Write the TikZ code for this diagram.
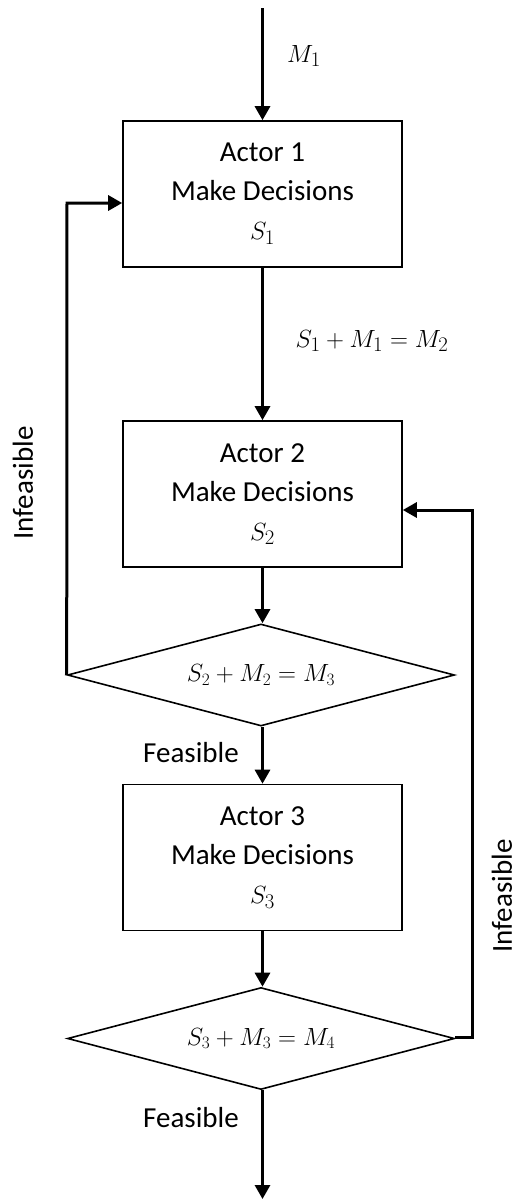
\documentclass[tikz,border=0pt]{standalone}
\usepackage{fontspec}
\setmainfont{Carlito}
\usetikzlibrary{shapes.geometric,arrows.meta,calc}
\newcommand{\boxmath}[1]{{\fontsize{32}{39}\selectfont$#1$}}
\begin{document}
\begin{tikzpicture}[x=1pt,y=-1pt,
  actorbox/.style={draw,line width=1.6pt,minimum width=279pt,minimum height=146pt,inner sep=0pt,align=center,
    font=\fontsize{29}{39}\selectfont},
  decision/.style={draw,diamond,line width=1.6pt,minimum width=387pt,minimum height=102pt,inner sep=0pt,
    aspect=3.8,font=\fontsize{27}{30}\selectfont},
  flow/.style={line width=3pt,-{Triangle[length=14pt,width=15pt]}},
  lbl/.style={font=\fontsize{29}{34}\selectfont,inner sep=0pt},
  mlbl/.style={font=\fontsize{31}{34}\selectfont,inner sep=0pt}]
\useasboundingbox (0,0) rectangle (521,1200);
\node[actorbox] (b1) at (262.5,194) {Actor 1\\Make Decisions\\\boxmath{S_1}};
\node[actorbox] (b2) at (262.5,494) {Actor 2\\Make Decisions\\\boxmath{S_2}};
\node[decision] (d1) at (261,675) {$S_2+M_2=M_3$};
\node[actorbox] (b3) at (262.5,857.5) {Actor 3\\Make Decisions\\\boxmath{S_3}};
\node[decision] (d2) at (261,1038.5) {$S_3+M_3=M_4$};
\coordinate (top) at (262.5,8);
\coordinate (bot) at (262.5,1199);
\coordinate (fb1) at (67,203);
\coordinate (fb2a) at (472,1037);
\coordinate (fb2b) at (472,510);
\draw[flow] (top) -- (b1.north);
\draw[flow] (b1.south) -- (b2.north);
\draw[flow] (b2.south) -- (d1.north -| b2.south);
\draw[flow] (d1.south -| b2.south) -- (b3.north);
\draw[flow] (b3.south) -- (d2.north -| b3.south);
\draw[flow] (d2.south -| b3.south) -- (bot);
\draw[flow] (d1.west) -- (fb1) -- (fb1 -| b1.west);
\draw[flow] (d2.east |- fb2a) -- (fb2a) -- (fb2b) -- (fb2b -| b2.east);
\node[mlbl] (m1) at (304,56) {$M_1$};
\node[mlbl] (eq1) at (372,341) {$S_1+M_1=M_2$};
\node[lbl] (f1) at (191,753) {Feasible};
\node[lbl] (f2) at (191,1118) {Feasible};
\node[lbl,rotate=90] (i1) at (23,483) {Infeasible};
\node[lbl,rotate=90] (i2) at (502,896) {Infeasible};
\end{tikzpicture}
\end{document}
